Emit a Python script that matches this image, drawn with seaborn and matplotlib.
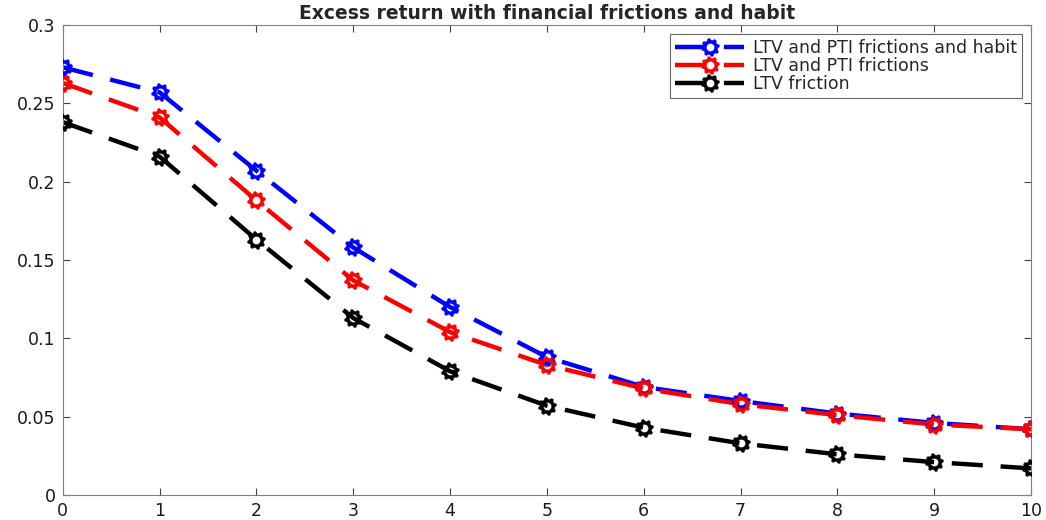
import numpy as np
import pandas as pd
import matplotlib
matplotlib.use("Agg")
import matplotlib.pyplot as plt
from matplotlib.path import Path
from matplotlib.lines import Line2D
import seaborn as sns

# Horizon (quarters) and excess-return responses for each model variant
horizon = list(range(11))
ltv_pti_habit = [0.273, 0.257, 0.207, 0.158, 0.120, 0.088, 0.069, 0.060, 0.052, 0.046, 0.042]
ltv_pti = [0.263, 0.241, 0.188, 0.137, 0.104, 0.083, 0.068, 0.058, 0.051, 0.045, 0.042]
ltv_only = [0.238, 0.216, 0.163, 0.113, 0.079, 0.057, 0.043, 0.033, 0.026, 0.021, 0.017]

series_names = ["LTV and PTI frictions and habit", "LTV and PTI frictions", "LTV friction"]
series_values = [ltv_pti_habit, ltv_pti, ltv_only]
series_colors = ["#0000ff", "#ff0000", "#000000"]

x_ticks = list(range(11))
y_ticks = [0, 0.05, 0.1, 0.15, 0.2, 0.25, 0.3]
y_tick_labels = ["0", "0.05", "0.1", "0.15", "0.2", "0.25", "0.3"]

df = pd.DataFrame({
    "horizon": horizon * len(series_names),
    "value": sum(series_values, []),
    "model": [n for n in series_names for _ in horizon],
})


def gear_marker(teeth=8, r_out=1.0, r_in=0.8, r_hole=0.45):
    """Ring-shaped marker with a toothed outer rim and an open centre."""
    n = teeth * 4
    ang = np.linspace(0, 2 * np.pi, n, endpoint=False) + np.pi / n
    radii = np.array([r_out, r_out, r_in, r_in] * teeth)
    outer = np.column_stack([radii * np.cos(ang), radii * np.sin(ang)])
    t = np.linspace(0, 2 * np.pi, 40, endpoint=False)[::-1]
    inner = np.column_stack([r_hole * np.cos(t), r_hole * np.sin(t)])
    verts = np.vstack([outer, outer[:1], inner, inner[:1]])
    codes = ([Path.MOVETO] + [Path.LINETO] * (len(outer) - 1) + [Path.CLOSEPOLY]
             + [Path.MOVETO] + [Path.LINETO] * (len(inner) - 1) + [Path.CLOSEPOLY])
    return Path(verts, codes)


gear = gear_marker()
dash_style = (0, (7, 4.0))
line_width = 3.2
marker_size = 13

sns.set_style("white")
plt.rcParams["font.family"] = ["DejaVu Sans"]

fig = plt.figure(figsize=(10.46, 5.2), dpi=100)
ax = fig.add_axes([0.060, 0.048, 0.9257, 0.904])

handles = []
for name, color in zip(series_names, series_colors):
    sub = df[df["model"] == name]
    sns.lineplot(data=sub, x="horizon", y="value", ax=ax, color=color,
                 linewidth=line_width, linestyle=dash_style, legend=False,
                 errorbar=None)
    sns.scatterplot(data=sub, x="horizon", y="value", ax=ax, color=color,
                    marker=gear, s=marker_size ** 2, edgecolor=color,
                    linewidth=0.3, legend=False, zorder=3)
    handles.append(Line2D([], [], color=color, linewidth=line_width,
                          linestyle=dash_style, marker=gear,
                          markersize=marker_size, markerfacecolor=color,
                          markeredgecolor=color, markeredgewidth=0.3,
                          label=name))

ax.set_xlim(0, 10)
ax.set_ylim(0, 0.3)
ax.set_xticks(x_ticks)
ax.set_xticklabels([str(t) for t in x_ticks])
ax.set_yticks(y_ticks)
ax.set_yticklabels(y_tick_labels)
ax.set_xlabel("")
ax.set_ylabel("")
ax.set_title("Excess return with financial frictions and habit",
             fontsize=13.5, fontweight="bold", pad=4)

ax.tick_params(direction="in", length=5, width=0.8, colors="#404040",
               labelcolor="#1a1a1a", labelsize=12.5, top=True, right=True,
               bottom=True, left=True, pad=5)
for s in ax.spines.values():
    s.set_color("#808080")
    s.set_linewidth(0.8)

leg = ax.legend(handles=handles, loc="upper right", fontsize=12.5, frameon=True,
                fancybox=False, borderaxespad=0.5, handlelength=4.0,
                handletextpad=0.5, labelspacing=0.0, borderpad=0.3)
leg.get_frame().set_edgecolor("#404040")
leg.get_frame().set_linewidth(0.8)

fig.savefig("out.png", dpi=100)
